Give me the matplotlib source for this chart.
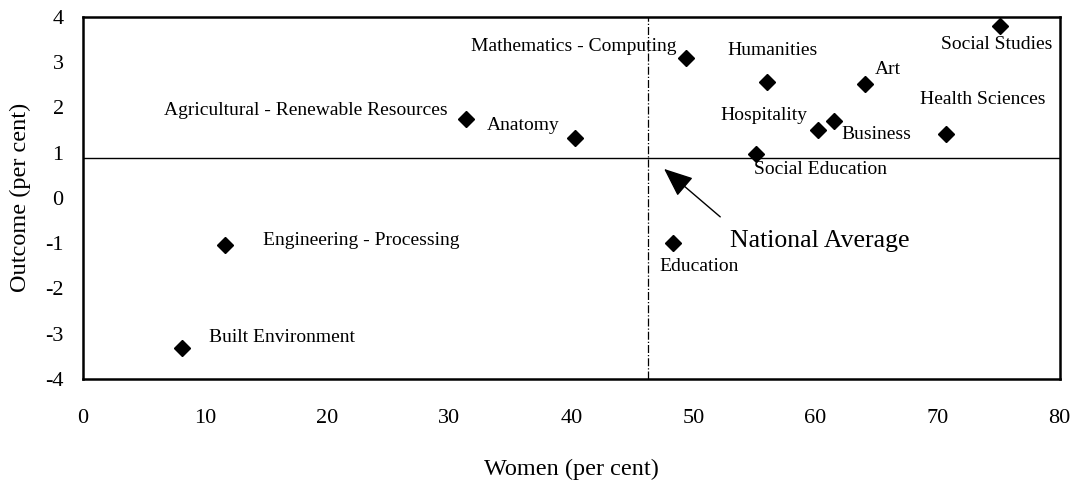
import matplotlib.pyplot as plt
import numpy as np

# fields of study: share of women vs outcome
fields = ['Built Environment', 'Engineering - Processing',
          'Agricultural - Renewable Resources', 'Anatomy',
          'Mathematics - Computing', 'Humanities', 'Art', 'Hospitality',
          'Business', 'Health Sciences', 'Social Studies',
          'Social Education', 'Education']
women = [8.1, 11.6, 31.4, 40.3, 49.4, 56.0, 64.1, 60.2, 61.5, 70.7, 75.1, 55.1, 48.3]
outcome = [-3.31, -1.04, 1.75, 1.33, 3.1, 2.56, 2.52, 1.5, 1.7, 1.41, 3.8, 0.97, -0.99]

avg_women = 46.3
avg_outcome = 0.88

# label anchors (x, y, horizontal alignment)
label_pos = [(10.35, -3.09, 'left'), (14.7, -0.95, 'left'), (29.9, 1.92, 'right'),
             (33.1, 1.59, 'left'), (48.6, 3.34, 'right'), (52.8, 3.25, 'left'),
             (64.9, 2.83, 'left'), (59.3, 1.81, 'right'), (62.1, 1.41, 'left'),
             (68.6, 2.17, 'left'), (70.3, 3.38, 'left'), (55.0, 0.62, 'left'),
             (47.2, -1.52, 'left')]

plt.rcParams['font.family'] = ['Liberation Serif', 'DejaVu Serif']
plt.rcParams['axes.unicode_minus'] = False

fig = plt.figure(figsize=(10.79, 4.82), dpi=100)
ax = fig.add_axes([0.077, 0.214, 0.905, 0.751])

ax.plot(women, outcome, 'D', color='black', markersize=8, linestyle='none')
ax.axvline(avg_women, color='black', lw=0.9, ls='-.')
ax.axhline(avg_outcome, color='black', lw=1.0)

for name, (lx, ly, ha) in zip(fields, label_pos):
    ax.text(lx, ly, name, ha=ha, va='center', fontsize=14)

# national average pointer
ax.annotate('', xy=(47.6, 0.64), xytext=(52.2, -0.42),
            arrowprops=dict(arrowstyle='-|>,head_length=1.2,head_width=0.5',
                            color='black', lw=1.0, mutation_scale=15,
                            shrinkA=0, shrinkB=0))
ax.text(53.0, -0.95, 'National Average', fontsize=18.5, va='center', ha='left')

ax.set_xlim(0, 80)
ax.set_ylim(-4, 4)
ax.set_xticks(np.arange(0, 81, 10))
ax.set_yticks(np.arange(-4, 5, 1))
ax.tick_params(axis='both', length=0, labelsize=16)
ax.tick_params(axis='x', pad=22)
ax.tick_params(axis='y', pad=14)
for s in ax.spines.values():
    s.set_linewidth(1.8)

ax.set_xlabel('Women (per cent)', fontsize=17.5, labelpad=22)
ax.set_ylabel('Outcome (per cent)', fontsize=17.5, labelpad=10)

fig.savefig('out.png', dpi=100)
